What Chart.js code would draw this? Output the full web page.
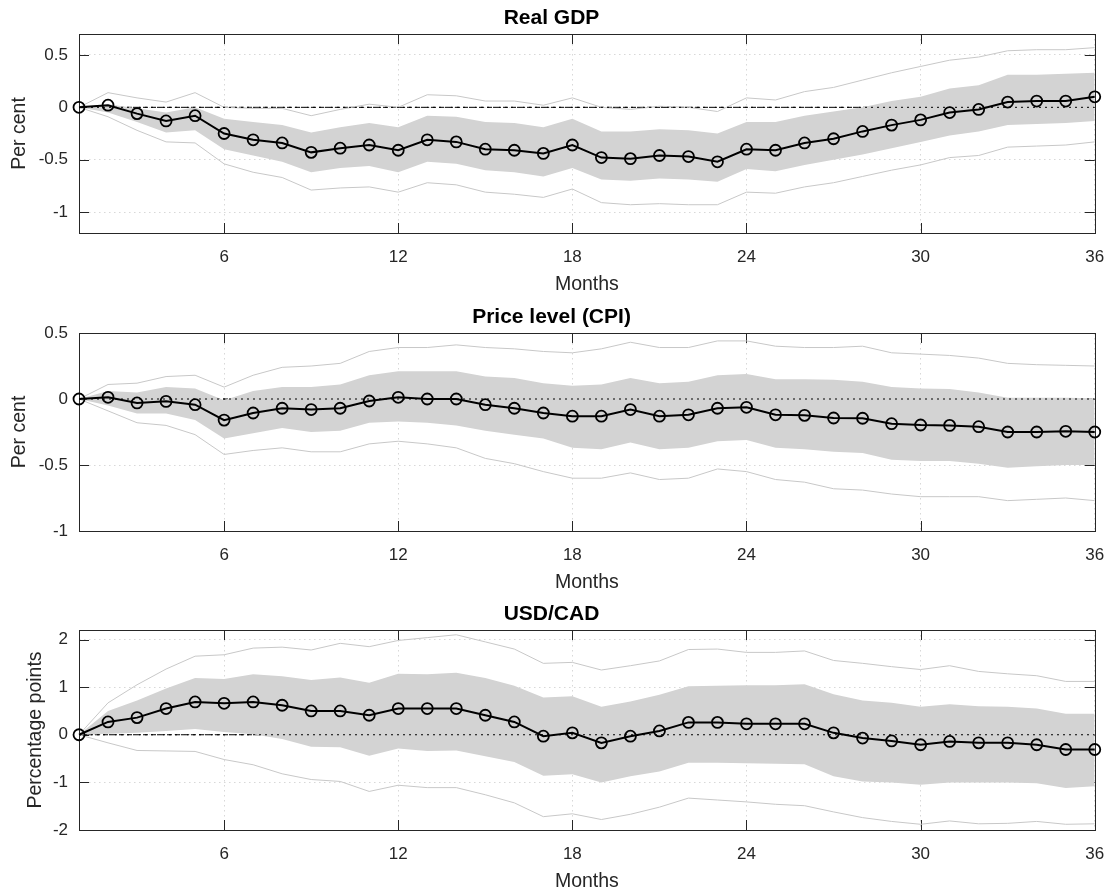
<!DOCTYPE html>
<html>
<head>
<meta charset="utf-8">
<script src="https://cdn.jsdelivr.net/npm/chart.js@4.4.1/dist/chart.umd.min.js"></script>
<style>
body{margin:0;background:#fff;width:1118px;height:894px;overflow:hidden;position:relative}
canvas{position:absolute;left:0}
</style>
</head>
<body>
<canvas id="gdp" width="1118" height="303" style="top:0px"></canvas>
<canvas id="cpi" width="1118" height="302" style="top:299px"></canvas>
<canvas id="fx" width="1118" height="304" style="top:596px"></canvas>
<script>

let months=[1,2,3,4,5,6,7,8,9,10,11,12,13,14,15,16,17,18,19,20,21,22,23,24,25,26,27,28,29,30,31,32,33,34,35,36]
let monthTicks=[6,12,18,24,30,36]
let zeroX=[1,36]
let zeroY=[0,0]

// Real GDP
let gdpMean=[0,0.02,-0.06,-0.13,-0.08,-0.25,-0.31,-0.34,-0.43,-0.39,-0.36,-0.41,-0.31,-0.33,-0.40,-0.41,-0.44,-0.36,-0.48,-0.49,-0.46,-0.47,-0.52,-0.40,-0.41,-0.34,-0.30,-0.23,-0.17,-0.12,-0.05,-0.02,0.05,0.06,0.06,0.10]
let gdpBandHi=[0,0.03,-0.01,-0.05,0.0,-0.11,-0.14,-0.17,-0.24,-0.19,-0.15,-0.19,-0.08,-0.09,-0.14,-0.15,-0.19,-0.11,-0.23,-0.23,-0.21,-0.22,-0.25,-0.14,-0.14,-0.08,-0.04,0.0,0.06,0.10,0.18,0.21,0.31,0.31,0.32,0.33]
let gdpBandLo=[0,-0.05,-0.14,-0.24,-0.22,-0.40,-0.46,-0.52,-0.62,-0.58,-0.56,-0.62,-0.52,-0.54,-0.60,-0.62,-0.66,-0.58,-0.69,-0.70,-0.68,-0.69,-0.71,-0.59,-0.61,-0.55,-0.50,-0.45,-0.39,-0.33,-0.27,-0.23,-0.17,-0.16,-0.15,-0.13]
let gdpOutHi=[0,0.14,0.09,0.05,0.14,0.0,-0.01,-0.01,-0.08,-0.02,0.03,0.0,0.12,0.11,0.06,0.06,0.02,0.09,0.0,-0.02,0.01,0.0,-0.04,0.09,0.07,0.15,0.19,0.26,0.33,0.39,0.45,0.48,0.54,0.55,0.55,0.57]
let gdpOutLo=[0,-0.09,-0.22,-0.33,-0.34,-0.54,-0.62,-0.67,-0.79,-0.77,-0.76,-0.81,-0.72,-0.74,-0.81,-0.83,-0.86,-0.78,-0.91,-0.93,-0.92,-0.93,-0.93,-0.81,-0.82,-0.76,-0.72,-0.66,-0.60,-0.55,-0.48,-0.46,-0.38,-0.37,-0.36,-0.33]
let gdpTicks=[-1,-0.5,0,0.5]

// Price level (CPI)
let cpiMean=[0,0.013,-0.03,-0.018,-0.043,-0.16,-0.106,-0.07,-0.08,-0.07,-0.015,0.013,0.0,0.0,-0.043,-0.07,-0.106,-0.13,-0.13,-0.08,-0.13,-0.12,-0.07,-0.063,-0.12,-0.124,-0.144,-0.146,-0.187,-0.197,-0.2,-0.21,-0.25,-0.25,-0.245,-0.25]
let cpiBandHi=[0,0.06,0.05,0.09,0.08,-0.01,0.06,0.09,0.09,0.11,0.18,0.21,0.21,0.21,0.17,0.16,0.12,0.10,0.11,0.16,0.12,0.13,0.18,0.19,0.15,0.15,0.145,0.13,0.09,0.08,0.075,0.05,0.01,0.01,0.01,0.005]
let cpiBandLo=[0,-0.05,-0.11,-0.11,-0.16,-0.30,-0.26,-0.22,-0.25,-0.24,-0.18,-0.17,-0.18,-0.20,-0.24,-0.27,-0.30,-0.37,-0.38,-0.33,-0.38,-0.37,-0.32,-0.31,-0.37,-0.38,-0.40,-0.41,-0.46,-0.47,-0.47,-0.49,-0.52,-0.51,-0.50,-0.50]
let cpiOutHi=[0,0.11,0.12,0.17,0.18,0.09,0.18,0.24,0.25,0.27,0.36,0.39,0.39,0.41,0.39,0.38,0.36,0.35,0.38,0.43,0.39,0.39,0.44,0.44,0.40,0.39,0.39,0.40,0.35,0.34,0.33,0.31,0.27,0.26,0.255,0.25]
let cpiOutLo=[0,-0.09,-0.18,-0.20,-0.27,-0.42,-0.39,-0.37,-0.40,-0.40,-0.34,-0.32,-0.34,-0.37,-0.45,-0.49,-0.55,-0.60,-0.60,-0.56,-0.61,-0.60,-0.53,-0.55,-0.61,-0.63,-0.68,-0.69,-0.72,-0.74,-0.74,-0.74,-0.77,-0.76,-0.75,-0.77]
let cpiTicks=[-1,-0.5,0,0.5]

// USD/CAD
let fxMean=[0,0.27,0.36,0.55,0.69,0.66,0.69,0.62,0.50,0.50,0.41,0.55,0.55,0.55,0.41,0.27,-0.03,0.04,-0.17,-0.03,0.08,0.26,0.26,0.23,0.23,0.23,0.04,-0.07,-0.13,-0.21,-0.14,-0.17,-0.17,-0.21,-0.31,-0.31]
let fxBandHi=[0,0.50,0.72,0.97,1.19,1.17,1.27,1.23,1.15,1.20,1.09,1.28,1.27,1.30,1.19,1.03,0.78,0.81,0.59,0.70,0.84,1.02,1.03,1.04,1.04,1.06,0.85,0.72,0.67,0.59,0.64,0.60,0.59,0.55,0.44,0.44]
let fxBandLo=[0,0.02,0.04,0.08,0.12,0.06,0.01,-0.09,-0.25,-0.26,-0.44,-0.29,-0.34,-0.33,-0.45,-0.57,-0.86,-0.83,-1.00,-0.87,-0.77,-0.59,-0.59,-0.60,-0.61,-0.62,-0.87,-0.98,-1.00,-1.05,-1.00,-1.00,-1.00,-1.02,-1.12,-1.08]
let fxOutHi=[0,0.67,1.05,1.38,1.65,1.68,1.82,1.84,1.78,1.92,1.85,1.98,2.04,2.10,1.95,1.80,1.50,1.52,1.36,1.45,1.55,1.79,1.80,1.73,1.73,1.76,1.56,1.50,1.43,1.37,1.45,1.33,1.28,1.24,1.12,1.12]
let fxOutLo=[0,-0.17,-0.33,-0.34,-0.35,-0.52,-0.63,-0.82,-0.94,-0.98,-1.19,-1.06,-1.11,-1.11,-1.26,-1.43,-1.72,-1.66,-1.78,-1.67,-1.52,-1.33,-1.37,-1.41,-1.46,-1.49,-1.62,-1.74,-1.82,-1.88,-1.81,-1.87,-1.86,-1.82,-1.88,-1.87]
let fxTicks=[-2,-1,0,1,2]


let font="'Liberation Sans', Arial, Helvetica, sans-serif"
let axisColor="#262626"


function pts(xs,ys){

return xs.map((x,i)=>({x:x,y:ys[i]}))

}


// box round the axes with inward tick marks, like matlab
let boxPlugin={

id:"box",

beforeDatasetsDraw(chart){

let a=chart.chartArea
let ctx=chart.ctx
let xs=chart.scales.x
let ys=chart.scales.y

ctx.save()
ctx.strokeStyle=axisColor
ctx.lineWidth=1
ctx.beginPath()

monthTicks.forEach(v=>{
let px=Math.round(xs.getPixelForValue(v))+0.5
ctx.moveTo(px,a.bottom)
ctx.lineTo(px,a.bottom-10)
ctx.moveTo(px,a.top)
ctx.lineTo(px,a.top+10)
})

ys.ticks.forEach(t=>{
let py=Math.round(ys.getPixelForValue(t.value))+0.5
ctx.moveTo(a.left,py)
ctx.lineTo(a.left+10,py)
ctx.moveTo(a.right,py)
ctx.lineTo(a.right-10,py)
})

ctx.stroke()
ctx.strokeRect(Math.round(a.left)+0.5,Math.round(a.top)+0.5,Math.round(a.right-a.left),Math.round(a.bottom-a.top))
ctx.restore()

}

}


function makeChart(id,title,yTitle,yTitlePad,ymin,ymax,yTicks,mean,bandHi,bandLo,outHi,outLo){

let ctx=document.getElementById(id)

return new Chart(ctx,{

type:"line",

data:{

datasets:[
{
data:pts(months,mean),
borderColor:"#000",
borderWidth:2,
pointRadius:5.5,
pointBorderWidth:1.8,
pointBorderColor:"#000",
pointBackgroundColor:"rgba(0,0,0,0)",
clip:false
},
{
data:pts(zeroX,zeroY),
borderColor:"#000",
borderWidth:1,
borderDash:[2,4],
pointRadius:0
},
{
data:pts(months,outHi),
borderColor:"rgb(200,200,200)",
borderWidth:1,
pointRadius:0
},
{
data:pts(months,outLo),
borderColor:"rgb(200,200,200)",
borderWidth:1,
pointRadius:0
},
{
data:pts(months,bandHi),
borderColor:"rgba(0,0,0,0)",
borderWidth:0,
backgroundColor:"rgb(211,211,211)",
fill:"+1",
pointRadius:0
},
{
data:pts(months,bandLo),
borderColor:"rgba(0,0,0,0)",
borderWidth:0,
pointRadius:0
},
{
data:pts(zeroX,zeroY),
borderColor:"#000",
borderWidth:1,
borderDash:[5,3],
pointRadius:0
}
]

},

options:{

responsive:false,
animation:false,
events:[],

layout:{padding:{left:0,right:15,top:0,bottom:0}},

elements:{line:{tension:0}},

plugins:{
legend:{display:false},
tooltip:{enabled:false},
title:{
display:true,
text:title,
color:"#000",
font:{family:font,size:21,weight:"bold"},
padding:{top:5.4,bottom:3.4}
}
},

scales:{

x:{
type:"linear",
min:1,
max:36,
afterBuildTicks:s=>{s.ticks=monthTicks.map(v=>({value:v}))},
afterFit:s=>{s.height=70},
ticks:{color:axisColor,font:{family:font,size:17},padding:13.8,autoSkip:false,maxRotation:0,callback:v=>String(v)},
grid:{color:"rgba(38,38,38,0.18)",lineWidth:1,drawTicks:false},
border:{display:false,dash:[1.5,3.5]},
title:{display:true,text:"Months",color:axisColor,font:{family:font,size:19.5},padding:{top:0,bottom:6.3}}
},

y:{
min:ymin,
max:ymax,
afterBuildTicks:s=>{s.ticks=yTicks.map(v=>({value:v}))},
afterFit:s=>{s.width=79},
ticks:{color:axisColor,font:{family:font,size:17},padding:11,autoSkip:false,callback:v=>String(v)},
grid:{color:"rgba(38,38,38,0.18)",lineWidth:1,drawTicks:false},
border:{display:false,dash:[1.5,3.5]},
title:{display:true,text:yTitle,color:axisColor,font:{family:font,size:19.5},padding:{top:yTitlePad,bottom:0}}
}

}

},

plugins:[boxPlugin]

})

}


makeChart("gdp","Real GDP","Per cent",7.8,-1.2,0.7,gdpTicks,gdpMean,gdpBandHi,gdpBandLo,gdpOutHi,gdpOutLo)

makeChart("cpi","Price level (CPI)","Per cent",7.8,-1,0.5,cpiTicks,cpiMean,cpiBandHi,cpiBandLo,cpiOutHi,cpiOutLo)

makeChart("fx","USD/CAD","Percentage points",24.3,-2,2.2,fxTicks,fxMean,fxBandHi,fxBandLo,fxOutHi,fxOutLo)

</script>
</body>
</html>
